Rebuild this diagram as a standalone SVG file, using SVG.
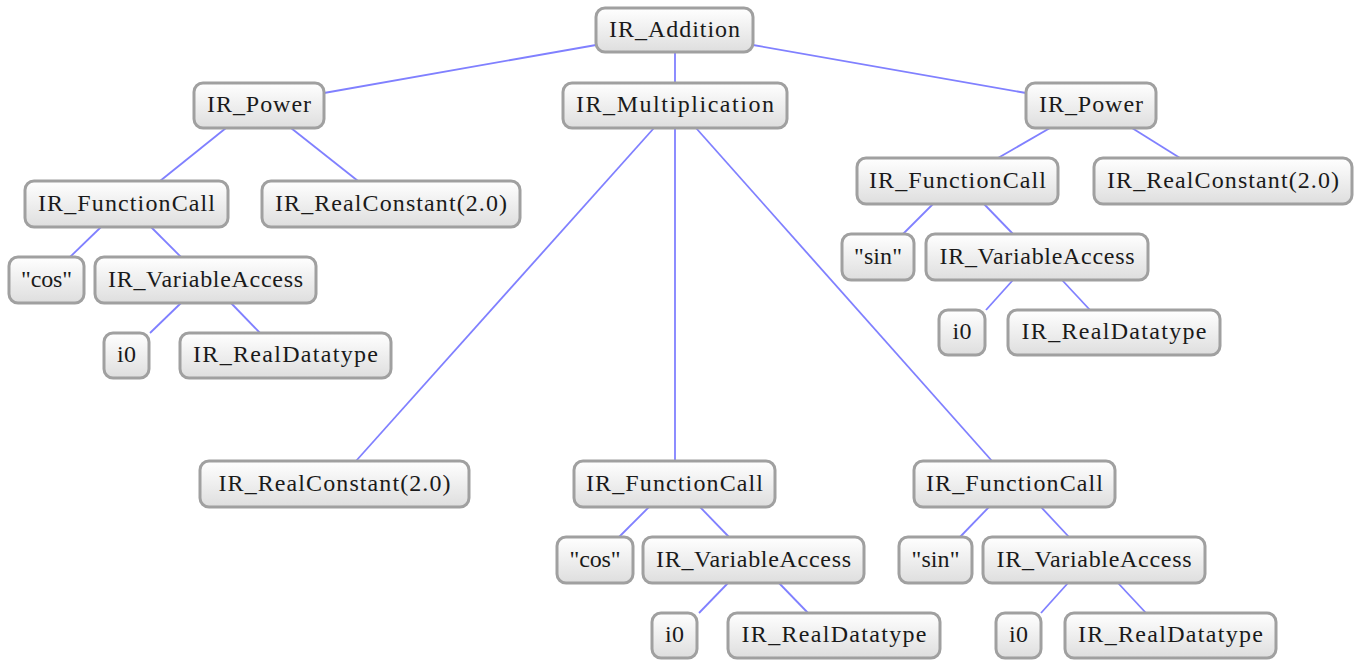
<svg xmlns="http://www.w3.org/2000/svg" width="1368" height="661" viewBox="0 0 1368 661">
  <defs>
    <linearGradient id="nodeFill" x1="0" y1="0" x2="0" y2="1">
      <stop offset="0" stop-color="#ffffff"/>
      <stop offset="1" stop-color="#dedede"/>
    </linearGradient>
  </defs>
  <style>
    .node rect { fill: url(#nodeFill); stroke: #a0a0a0; stroke-width: 3; }
    .node text { font-family: "Liberation Serif", "DejaVu Serif", serif; font-size: 24px; fill: #1a1a1a; text-anchor: middle; }
    #edges line { stroke: #8080ff; stroke-width: 1.8; fill: none; }
  </style>
  <rect width="1368" height="661" fill="#ffffff"/>

  <!-- tree edges -->
  <g id="edges">
    <line x1="596" y1="45" x2="324" y2="93"/>
    <line x1="675" y1="52" x2="675" y2="83"/>
    <line x1="753" y1="45" x2="1026" y2="93"/>
    <line x1="226" y1="128" x2="160" y2="181"/>
    <line x1="291" y1="128" x2="358" y2="181"/>
    <line x1="101" y1="227" x2="70" y2="257"/>
    <line x1="151" y1="227" x2="181" y2="257"/>
    <line x1="181" y1="303" x2="150" y2="333"/>
    <line x1="231" y1="303" x2="260" y2="333"/>
    <line x1="654" y1="128" x2="356" y2="461"/>
    <line x1="675" y1="128" x2="675" y2="461"/>
    <line x1="696" y1="128" x2="992" y2="461"/>
    <line x1="649" y1="507" x2="619" y2="537"/>
    <line x1="700" y1="507" x2="729" y2="537"/>
    <line x1="728" y1="583" x2="699" y2="613"/>
    <line x1="779" y1="583" x2="808" y2="613"/>
    <line x1="989" y1="507" x2="960" y2="537"/>
    <line x1="1041" y1="507" x2="1069" y2="537"/>
    <line x1="1068" y1="583" x2="1041" y2="613"/>
    <line x1="1118" y1="583" x2="1146" y2="613"/>
    <line x1="1050" y1="128" x2="998" y2="158"/>
    <line x1="1132" y1="128" x2="1180" y2="158"/>
    <line x1="933" y1="204" x2="903" y2="234"/>
    <line x1="984" y1="204" x2="1013" y2="234"/>
    <line x1="1013" y1="280" x2="986" y2="310"/>
    <line x1="1062" y1="280" x2="1090" y2="310"/>
  </g>

  <!-- root -->
  <g id="n-addition" class="node"><rect x="596" y="8" width="157" height="44" rx="9"/><text x="674.5" y="36.5" textLength="131">IR_Addition</text></g>

  <!-- level 1 -->
  <g id="n-power-l" class="node"><rect x="194" y="83" width="130" height="45" rx="9"/><text x="259" y="112" textLength="104">IR_Power</text></g>
  <g id="n-mult" class="node"><rect x="563" y="83" width="224" height="45" rx="9"/><text x="675" y="112" textLength="198">IR_Multiplication</text></g>
  <g id="n-power-r" class="node"><rect x="1026" y="83" width="130" height="45" rx="9"/><text x="1091" y="112" textLength="104">IR_Power</text></g>

  <!-- left power subtree -->
  <g id="n-fc-l" class="node"><rect x="25" y="181" width="203" height="46" rx="9"/><text x="126.5" y="210.5" textLength="177">IR_FunctionCall</text></g>
  <g id="n-rc-l" class="node"><rect x="262" y="181" width="258" height="46" rx="9"/><text x="391" y="210.5" textLength="232">IR_RealConstant(2.0)</text></g>
  <g id="n-cos-l" class="node"><rect x="9" y="257" width="75" height="46" rx="9"/><text x="46.5" y="286.5" textLength="51">"cos"</text></g>
  <g id="n-va-l" class="node"><rect x="95" y="257" width="221" height="46" rx="9"/><text x="205.5" y="286.5" textLength="195">IR_VariableAccess</text></g>
  <g id="n-i0-l" class="node"><rect x="104" y="333" width="45" height="45" rx="9"/><text x="126.5" y="362" textLength="19">i0</text></g>
  <g id="n-rd-l" class="node"><rect x="180" y="333" width="211" height="45" rx="9"/><text x="285.5" y="362" textLength="185">IR_RealDatatype</text></g>

  <!-- multiplication subtree -->
  <g id="n-rc-m" class="node"><rect x="200" y="461" width="269" height="46" rx="9"/><text x="334.5" y="490.5" textLength="232">IR_RealConstant(2.0)</text></g>
  <g id="n-fc-m" class="node"><rect x="574" y="461" width="201" height="46" rx="9"/><text x="674.5" y="490.5" textLength="177">IR_FunctionCall</text></g>
  <g id="n-cos-m" class="node"><rect x="557" y="537" width="76" height="46" rx="9"/><text x="595" y="566.5" textLength="51">"cos"</text></g>
  <g id="n-va-m" class="node"><rect x="643" y="537" width="221" height="46" rx="9"/><text x="753.5" y="566.5" textLength="195">IR_VariableAccess</text></g>
  <g id="n-i0-m" class="node"><rect x="652" y="613" width="45" height="45" rx="9"/><text x="674.5" y="642" textLength="19">i0</text></g>
  <g id="n-rd-m" class="node"><rect x="728" y="613" width="212" height="45" rx="9"/><text x="834" y="642" textLength="185">IR_RealDatatype</text></g>
  <g id="n-fc-m2" class="node"><rect x="914" y="461" width="201" height="46" rx="9"/><text x="1014.5" y="490.5" textLength="177">IR_FunctionCall</text></g>
  <g id="n-sin-m" class="node"><rect x="899" y="537" width="73" height="46" rx="9"/><text x="935.5" y="566.5" textLength="48">"sin"</text></g>
  <g id="n-va-m2" class="node"><rect x="983" y="537" width="222" height="46" rx="9"/><text x="1094" y="566.5" textLength="195">IR_VariableAccess</text></g>
  <g id="n-i0-m2" class="node"><rect x="996" y="613" width="45" height="45" rx="9"/><text x="1018.5" y="642" textLength="19">i0</text></g>
  <g id="n-rd-m2" class="node"><rect x="1065" y="613" width="211" height="45" rx="9"/><text x="1170.5" y="642" textLength="185">IR_RealDatatype</text></g>

  <!-- right power subtree -->
  <g id="n-fc-r" class="node"><rect x="857" y="158" width="201" height="46" rx="9"/><text x="957.5" y="187.5" textLength="177">IR_FunctionCall</text></g>
  <g id="n-rc-r" class="node"><rect x="1094" y="158" width="258" height="46" rx="9"/><text x="1223" y="187.5" textLength="232">IR_RealConstant(2.0)</text></g>
  <g id="n-sin-r" class="node"><rect x="842" y="234" width="72" height="46" rx="9"/><text x="878" y="263.5" textLength="48">"sin"</text></g>
  <g id="n-va-r" class="node"><rect x="926" y="234" width="222" height="46" rx="9"/><text x="1037" y="263.5" textLength="195">IR_VariableAccess</text></g>
  <g id="n-i0-r" class="node"><rect x="939" y="310" width="46" height="45" rx="9"/><text x="962" y="339" textLength="19">i0</text></g>
  <g id="n-rd-r" class="node"><rect x="1008" y="310" width="212" height="45" rx="9"/><text x="1114" y="339" textLength="185">IR_RealDatatype</text></g>
</svg>
